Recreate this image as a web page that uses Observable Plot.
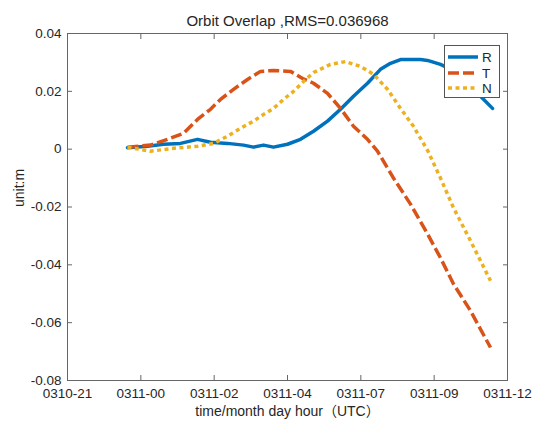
<!DOCTYPE html>
<html>
<head>
<meta charset="utf-8">
<script src="https://cdn.jsdelivr.net/npm/d3@7"></script>
<script src="https://cdn.jsdelivr.net/npm/@observablehq/plot@0.6"></script>
<style>
  html, body { margin: 0; padding: 0; background: #fff; }
  #wrap { position: relative; width: 535px; height: 421px; font-family: "Liberation Sans", Arial, "Noto Sans CJK SC", sans-serif; }
  #legend { position: absolute; left: 444px; top: 45px; width: 56px; height: 53px; box-sizing: border-box; border: 1px solid #555; background: #fff; }
</style>
</head>
<body>
<div id="wrap"></div>
<script>
// hours since 0310-21 (UTC)
const rHours = [2.045, 2.727, 3.273, 3.852, 4.432, 4.875, 5.455, 6.0, 6.341, 6.682, 7.023, 7.5, 7.943, 8.386, 8.864, 9.307, 9.75, 10.227, 10.67, 11.011, 11.352, 12.034, 12.273, 12.716, 13.398, 13.807, 14.08, 14.489];
const rValues = [0.0005, 0.001, 0.0017, 0.002, 0.0034, 0.0024, 0.002, 0.0014, 0.0007, 0.0014, 0.0007, 0.0017, 0.0034, 0.0062, 0.0097, 0.0138, 0.0183, 0.0228, 0.0276, 0.0297, 0.031, 0.031, 0.0307, 0.0293, 0.026, 0.022, 0.0183, 0.0141];

const tHours = [2.045, 2.83, 3.409, 3.955, 4.432, 4.875, 5.216, 5.659, 6.136, 6.58, 7.023, 7.602, 8.045, 8.386, 8.864, 9.307, 9.75, 10.227, 10.568, 11.114, 11.693, 12.273, 12.716, 13.159, 13.739, 14.42];
const tValues = [0.0007, 0.0014, 0.0034, 0.0055, 0.0103, 0.0138, 0.0172, 0.0207, 0.0241, 0.0269, 0.0272, 0.0269, 0.0243, 0.0228, 0.0193, 0.0141, 0.0079, 0.0034, -0.0007, -0.010, -0.019, -0.0293, -0.0376, -0.0466, -0.0559, -0.0686];

const nHours = [2.045, 2.83, 3.614, 4.432, 4.977, 5.455, 5.898, 6.341, 6.682, 7.023, 7.364, 7.705, 8.045, 8.386, 8.966, 9.477, 9.989, 10.432, 10.909, 11.352, 11.795, 12.273, 12.716, 13.159, 13.739, 14.08, 14.42];
const nValues = [0.0007, -0.0007, 0.0003, 0.001, 0.002, 0.0045, 0.0072, 0.0097, 0.012, 0.0141, 0.0172, 0.020, 0.0234, 0.0265, 0.0293, 0.0303, 0.0286, 0.0259, 0.0207, 0.0141, 0.0079, -0.0004, -0.010, -0.0203, -0.0317, -0.0386, -0.0455];

const xTicks = [0, 2.5, 5, 7.5, 10, 12.5, 15];
const xTickLabels = ["0310-21", "0311-00", "0311-02", "0311-04", "0311-07", "0311-09", "0311-12"];
const yTicks = [-0.08, -0.06, -0.04, -0.02, 0, 0.02, 0.04];
const yTickLabels = ["-0.08", "-0.06", "-0.04", "-0.02", "0", "0.02", "0.04"];

const seriesNames = ["R", "T", "N"];
const seriesColors = ["#0072BD", "#D95319", "#EDB120"];
const seriesDash = [null, "11,4", "4,3.5"];

const titleText = "Orbit Overlap ,RMS=0.036968";
const xLabel = "time/month day hour（UTC）";
const yLabel = "unit:m";

const rows = (hs, vs) => hs.map((h, i) => ({h, v: vs[i]}));
const rData = rows(rHours, rValues);
const tData = rows(tHours, tValues);
const nData = rows(nHours, nValues);

const font = '"Liberation Sans", Arial, "Noto Sans CJK SC", sans-serif';

const chart = Plot.plot({
  width: 535,
  height: 421,
  marginLeft: 67,
  marginRight: 28,
  marginTop: 33,
  marginBottom: 41,
  x: {domain: [0, 15]},
  y: {domain: [-0.08, 0.04]},
  style: {fontFamily: font, fontSize: "13.5px", color: "#262626", background: "white"},
  marks: [
    Plot.line(rData, {x: "h", y: "v", stroke: seriesColors[0], strokeWidth: 3.5, strokeLinejoin: "round"}),
    Plot.line(tData, {x: "h", y: "v", stroke: seriesColors[1], strokeWidth: 3.5, strokeDasharray: seriesDash[1], strokeLinecap: "butt", strokeLinejoin: "miter"}),
    Plot.line(nData, {x: "h", y: "v", stroke: seriesColors[2], strokeWidth: 3.5, strokeDasharray: seriesDash[2], strokeLinecap: "butt", strokeLinejoin: "miter"}),
    Plot.frame({stroke: "#666", strokeWidth: 1}),
    Plot.axisX({ticks: xTicks, tickFormat: d => xTickLabels[xTicks.indexOf(d)], tickSize: -5, tickPadding: 13, label: null, stroke: "#666"}),
    Plot.axisX({anchor: "top", ticks: xTicks, tickFormat: () => "", tickSize: -5, label: null, stroke: "#666"}),
    Plot.axisY({ticks: yTicks, tickFormat: d => yTickLabels[yTicks.indexOf(d)], tickSize: -5, tickPadding: 11, label: null, stroke: "#666"}),
    Plot.axisY({anchor: "right", ticks: yTicks, tickFormat: () => "", tickSize: -5, label: null, stroke: "#666"}),
    Plot.text([titleText], {frameAnchor: "top", dy: -12, lineAnchor: "middle", fontSize: 15, fill: "#262626"}),
    Plot.text([xLabel], {frameAnchor: "bottom", dy: 31, lineAnchor: "middle", fontSize: 14, fill: "#262626"}),
    Plot.text([yLabel], {frameAnchor: "left", dx: -48, rotate: -90, lineAnchor: "middle", fontSize: 14, fill: "#262626"})
  ]
});

const wrap = document.getElementById("wrap");
wrap.appendChild(chart);

// legend box (MATLAB-style, white background, inside axes)
const legend = document.createElement("div");
legend.id = "legend";
const lsvg = d3.create("svg").attr("width", 54).attr("height", 51);
const rowY = [11, 27, 42];
seriesNames.forEach((name, i) => {
  lsvg.append("line")
    .attr("x1", 3).attr("x2", 33).attr("y1", rowY[i]).attr("y2", rowY[i])
    .attr("stroke", seriesColors[i]).attr("stroke-width", 3.5)
    .attr("stroke-dasharray", seriesDash[i]);
  lsvg.append("text")
    .attr("x", 37).attr("y", rowY[i]).attr("dy", "0.35em")
    .attr("font-family", font).attr("font-size", 13.5).attr("fill", "#262626")
    .text(name);
});
legend.appendChild(lsvg.node());
wrap.appendChild(legend);
</script>
</body>
</html>
